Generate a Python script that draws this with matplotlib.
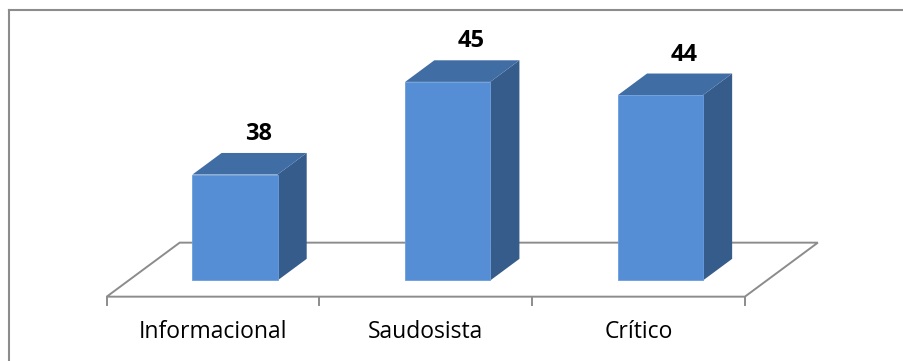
import matplotlib.pyplot as plt
from matplotlib.patches import Polygon
from matplotlib.lines import Line2D

plt.rcParams['font.family'] = ['Open Sans', 'DejaVu Sans']

categorias = ['Informacional', 'Saudosista', 'Crítico']
valores = [38, 45, 44]
base = 30

cor_frente = '#558ED5'
cor_topo = '#416DA5'
cor_lado = '#365C8B'
cor_linha = '#8C8C8C'

# profundidade do "chão" em unidades de dados (x em categorias, y em valores)
dx, dy = 0.343, 4.08


def proj(x, y, z):
    return (x + z * dx, y + z * dy)


fig = plt.figure(figsize=(9.04, 3.61), dpi=100)
ax = fig.add_axes([0, 0, 1, 1])
ax.set_xlim(-1.0017, 3.248)
ax.set_ylim(25.14, 52.41)
ax.axis('off')

n = len(categorias)
# chão
chao = [proj(-0.5, base, 0), proj(n - 0.5, base, 0),
        proj(n - 0.5, base, 1), proj(-0.5, base, 1)]
ax.add_patch(Polygon(chao, closed=True, facecolor='white',
                     edgecolor=cor_linha, lw=1.4, zorder=1))
for k in range(n + 1):
    ax.plot([k - 0.5, k - 0.5], [base, base - 0.6], color=cor_linha, lw=1.4, zorder=1)

# barras
w = 0.2
z0, z1 = 0.3, 0.7
for i, v in enumerate(valores):
    frente = [proj(i - w, base, z0), proj(i + w, base, z0),
              proj(i + w, v, z0), proj(i - w, v, z0)]
    lado = [proj(i + w, base, z0), proj(i + w, base, z1),
            proj(i + w, v, z1), proj(i + w, v, z0)]
    topo = [proj(i - w, v, z0), proj(i + w, v, z0),
            proj(i + w, v, z1), proj(i - w, v, z1)]
    ax.add_patch(Polygon(lado, closed=True, facecolor=cor_lado, edgecolor='none', zorder=2))
    ax.add_patch(Polygon(topo, closed=True, facecolor=cor_topo, edgecolor='none', zorder=2))
    ax.add_patch(Polygon(frente, closed=True, facecolor=cor_frente,
                         edgecolor='#6A9EDD', lw=0.6, zorder=3))
    ax.annotate(str(v), xy=proj(i, v, 0.62), xytext=(0, 8),
                textcoords='offset points', ha='center', va='bottom',
                fontsize=17, fontweight='bold', color='black')

for i, c in enumerate(categorias):
    ax.text(i, base - 2.7, c, ha='center', va='center', fontsize=16.5, color='black')

# moldura
fig.add_artist(Line2D([9 / 904, 9 / 904], [0, 1 - 10 / 361], color=cor_linha, lw=1.5))
fig.add_artist(Line2D([9 / 904, 1], [1 - 10 / 361, 1 - 10 / 361], color=cor_linha, lw=1.5))

fig.savefig('out.png', dpi=100)
